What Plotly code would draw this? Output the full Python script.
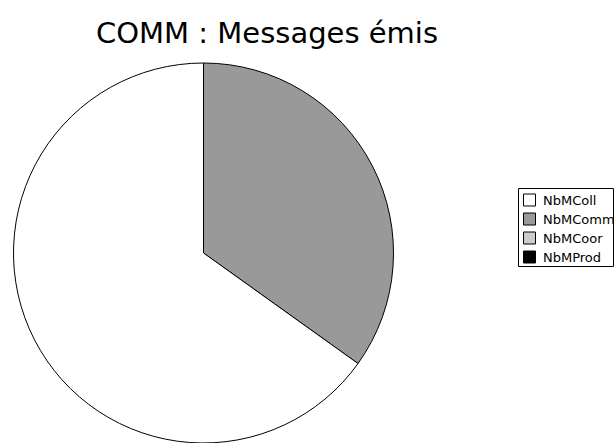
import plotly.graph_objects as go

# Message counts per category
categories = ["NbMColl", "NbMComm", "NbMCoor", "NbMProd"]
message_counts = [28, 15, 0, 0]
slice_colors = ["#ffffff", "#999999", "#cccccc", "#000000"]
chart_title = "COMM : Messages émis"

W, H = 615, 443
FONT = "DejaVu Sans"


def px_x(x):
    return x / W


def px_y(y):
    return 1 - y / H


# Slices are laid out clockwise from 12 o'clock, starting with NbMComm
pie_order = [1, 0, 2, 3]

fig = go.Figure(
    go.Pie(
        labels=[categories[i] for i in pie_order],
        values=[message_counts[i] for i in pie_order],
        marker=dict(colors=[slice_colors[i] for i in pie_order],
                    line=dict(color="#000000", width=1)),
        sort=False,
        direction="clockwise",
        rotation=0,
        textinfo="none",
        hoverinfo="label+value+percent",
        showlegend=False,
        domain=dict(x=[px_x(12.5), px_x(394.5)], y=[0, px_y(63)]),
    )
)

# Legend box drawn by hand
shapes = [
    dict(type="rect", xref="paper", yref="paper",
         x0=px_x(518.5), x1=px_x(613.5), y0=px_y(266.5), y1=px_y(188.5),
         line=dict(color="#000000", width=1), fillcolor="rgba(0,0,0,0)")
]
annotations = [
    dict(text=chart_title, xref="paper", yref="paper", x=px_x(266.5), y=px_y(32.5),
         xanchor="center", yanchor="middle", showarrow=False,
         font=dict(family=FONT, size=29, color="#000000"))
]
row_top = 194
row_step = 19
for i, (name, col) in enumerate(zip(categories, slice_colors)):
    top = row_top + i * row_step
    shapes.append(dict(type="rect", xref="paper", yref="paper",
                       x0=px_x(523.5), x1=px_x(535.5),
                       y0=px_y(top + 12), y1=px_y(top),
                       line=dict(color="#000000", width=1), fillcolor=col))
    annotations.append(dict(text=name, xref="paper", yref="paper",
                            x=px_x(541), y=px_y(top + 6.5),
                            xanchor="left", yanchor="middle", showarrow=False,
                            font=dict(family=FONT, size=13, color="#000000")))

fig.update_layout(
    width=W, height=H,
    margin=dict(l=0, r=0, t=0, b=0),
    paper_bgcolor="#ffffff",
    plot_bgcolor="#ffffff",
    shapes=shapes,
    annotations=annotations,
)

fig.write_html("out.html")
